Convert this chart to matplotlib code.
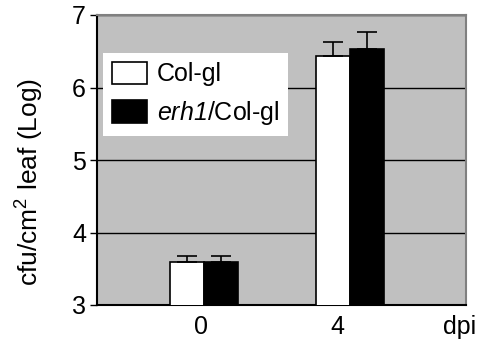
import numpy as np
import matplotlib.pyplot as plt

plt.rcParams['font.family'] = ['Liberation Sans', 'DejaVu Sans']
plt.rcParams['mathtext.fontset'] = 'custom'
plt.rcParams['mathtext.rm'] = 'Liberation Sans'
plt.rcParams['mathtext.it'] = 'Liberation Sans:italic'
plt.rcParams['mathtext.sf'] = 'Liberation Sans:italic'

# Данные
days = ['0', '4']
colgl = [3.59, 6.44]
colgl_err = [0.08, 0.19]
erh1 = [3.60, 6.53]
erh1_err = [0.08, 0.23]

fig = plt.figure(figsize=(4.81, 3.45), dpi=100)
ax = fig.add_axes([97 / 481, 1 - 305 / 345, 369 / 481, 290 / 345])
ax.set_facecolor('#c0c0c0')

x = np.arange(len(days))
w = 0.232
err_kw = dict(ecolor='black', elinewidth=1.2, capsize=7.5, capthick=1.2)
ax.bar(x - w / 2 + 0.01, colgl, w, color='white', edgecolor='black', linewidth=1.2,
       yerr=[np.zeros(2), colgl_err], error_kw=err_kw, label='Col-gl', zorder=3)
ax.bar(x + w / 2 + 0.01, erh1, w, color='black', edgecolor='black', linewidth=1.2,
       yerr=[np.zeros(2), erh1_err], error_kw=err_kw, label='$\\mathsf{erh1}$/Col-gl', zorder=3)

fs = 18
ax.set_ylim(3, 7)
ax.set_xlim(-0.721, 1.803)
ax.set_yticks([3, 4, 5, 6, 7])
ax.yaxis.grid(True, color='black', linewidth=1)
ax.set_axisbelow(True)
ax.tick_params(axis='y', labelsize=fs, length=5, width=1, direction='out', pad=3)
ax.set_xticks([-0.01, 0.92])
ax.set_xticklabels(days)
ax.tick_params(axis='x', labelsize=fs, length=0, pad=7)
ax.annotate('dpi', xy=(1.76, 0), xycoords=ax.get_xaxis_transform(),
            xytext=(0, -7), textcoords='offset points', fontsize=fs,
            ha='center', va='top')

for s in ['top', 'right']:
    ax.spines[s].set_color('#808080')
    ax.spines[s].set_linewidth(1.5)
for s in ['left', 'bottom']:
    ax.spines[s].set_color('black')
    ax.spines[s].set_linewidth(1.5)

ax.set_ylabel('cfu/cm$^2$ leaf (Log)', fontsize=19)
ax.yaxis.set_label_coords(-0.137, 0.425)

leg = ax.legend(loc='upper left', bbox_to_anchor=(6 / 369, 1 - 38 / 290), fontsize=fs,
                frameon=True, fancybox=False, framealpha=1, borderaxespad=0,
                handlelength=1.4, handleheight=1.0, handletextpad=0.4,
                labelspacing=0.5, borderpad=0.35)
leg.get_frame().set_edgecolor('white')
leg.get_frame().set_facecolor('white')
leg.get_frame().set_linewidth(0)

plt.savefig('out.png', dpi=100)
